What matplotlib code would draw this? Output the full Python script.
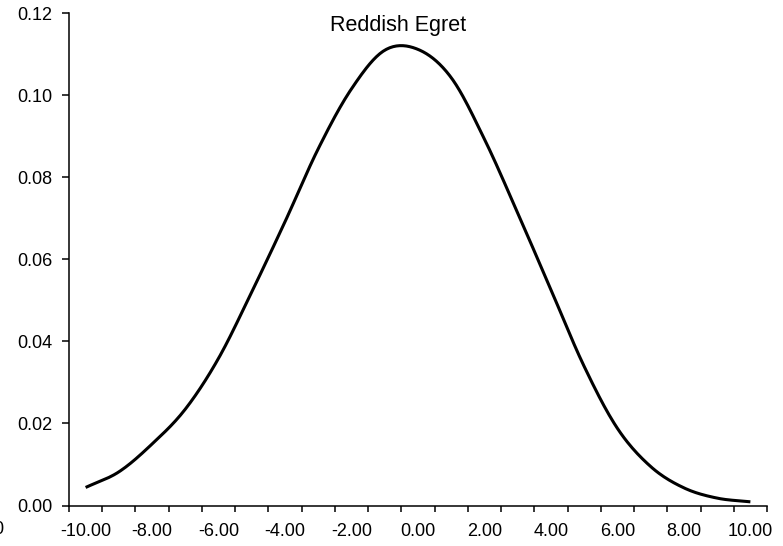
import numpy as np
import matplotlib
matplotlib.use("Agg")
import matplotlib.pyplot as plt
from matplotlib.ticker import FixedLocator

# ---- data ----
categories = [-10, -9, -8, -7, -6, -5, -4, -3, -2, -1, 0,
              1, 2, 3, 4, 5, 6, 7, 8, 9, 10]
density = [0.0044, 0.0082, 0.0150, 0.0235, 0.0359, 0.0521, 0.0692,
           0.0870, 0.1016, 0.1110, 0.1112, 0.1043, 0.0893, 0.0713,
           0.0526, 0.0339, 0.0188, 0.0095, 0.0043, 0.0018, 0.0009]
tick_labels = [f"{c:.2f}" for c in categories]
title = "Reddish Egret"
y_ticks = [0.00, 0.02, 0.04, 0.06, 0.08, 0.10, 0.12]


def smooth(xs, ys, n=20):
    """Catmull-Rom smoothing like a spreadsheet 'smoothed line'."""
    xs = np.asarray(xs, float)
    ys = np.asarray(ys, float)
    px = np.concatenate([[2 * xs[0] - xs[1]], xs, [2 * xs[-1] - xs[-2]]])
    py = np.concatenate([[2 * ys[0] - ys[1]], ys, [2 * ys[-1] - ys[-2]]])
    ox, oy = [], []
    for i in range(1, len(px) - 2):
        t = np.linspace(0, 1, n, endpoint=False)
        for P, out in ((px, ox), (py, oy)):
            p0, p1, p2, p3 = P[i - 1], P[i], P[i + 1], P[i + 2]
            out.extend(0.5 * ((2 * p1) + (-p0 + p2) * t
                              + (2 * p0 - 5 * p1 + 4 * p2 - p3) * t ** 2
                              + (-p0 + 3 * p1 - 3 * p2 + p3) * t ** 3))
    ox.append(xs[-1])
    oy.append(ys[-1])
    return np.array(ox), np.array(oy)


plt.rcParams['font.family'] = ['Liberation Sans', 'DejaVu Sans']

fig = plt.figure(figsize=(7.83, 5.46), dpi=100)
W, H = 783, 546
left, right, top, bottom = 69, 767, 13.3, 505.5
ax = fig.add_axes([left / W, 1 - bottom / H, (right - left) / W, (bottom - top) / H])

pos = np.arange(len(categories))
sx, sy = smooth(pos, density)
ax.plot(sx, sy, color='black', lw=2.2, solid_capstyle='butt')

ax.set_xlim(-0.5, len(categories) - 0.5)
ax.set_ylim(0, 0.12)

for s in ('top', 'right'):
    ax.spines[s].set_visible(False)
for s in ('left', 'bottom'):
    ax.spines[s].set_linewidth(1.1)
    ax.spines[s].set_color('black')

# x axis: labels on every other category, tick marks between categories
ax.xaxis.set_major_locator(FixedLocator(pos[::2]))
ax.set_xticklabels(tick_labels[::2])
ax.xaxis.set_minor_locator(FixedLocator(np.arange(-0.5, len(categories), 1.0)))
ax.tick_params(axis='x', which='major', length=0, pad=12.5, labelsize=13)
ax.tick_params(axis='x', which='minor', length=4, width=1.1, direction='out')

ax.set_yticks(y_ticks)
ax.set_yticklabels([f"{v:.2f}" for v in y_ticks])
ax.tick_params(axis='y', which='major', length=5, width=1.1, direction='out',
               pad=7, labelsize=13)

fig.text(398 / W, 1 - 25 / H, title, ha='center', va='center', fontsize=15.5)
# clipped label fragment at the left edge
fig.text(3.5 / W, 1 - 529 / H, "0", ha='right', va='center', fontsize=13)

fig.savefig("out.png", dpi=100)
